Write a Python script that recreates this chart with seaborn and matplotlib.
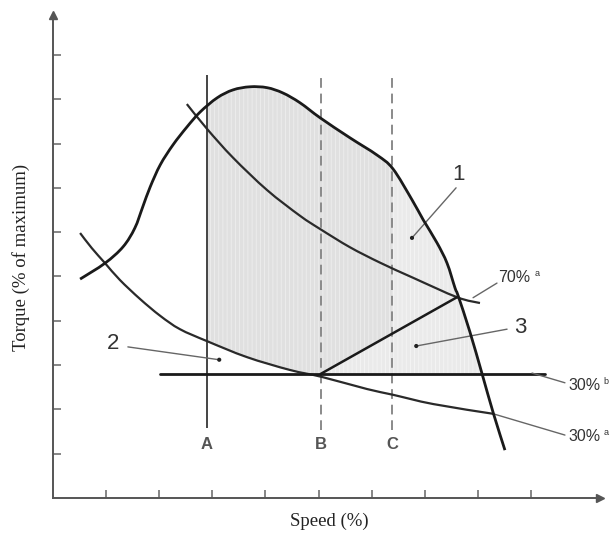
import numpy as np
import matplotlib
matplotlib.use("Agg")
import matplotlib.pyplot as plt
from matplotlib.path import Path
from matplotlib.patches import PathPatch
import seaborn as sns

# full load torque curve (speed %, torque %)
torque_x = [5.1, 9.8, 13.2, 15.4, 16.9, 18.3, 20.2, 22.6, 25.2, 27.7, 30.9, 33.9, 37.1, 40.3,
            43.3, 46.5, 50.3, 55.9, 61.0, 64.0, 67.6, 69.7, 72.3, 74.2, 75.7, 76.3, 78.5,
            80.8, 82.9, 85.1]
torque_y = [49.4, 53.0, 56.7, 60.9, 65.7, 70.2, 75.2, 79.7, 83.7, 87.1, 90.3, 92.1, 92.8, 92.6,
            91.4, 89.2, 85.8, 81.3, 77.4, 74.3, 67.3, 62.8, 57.6, 53.0, 47.4, 45.6, 37.5,
            28.0, 19.2, 10.8]

# 70 % power line
p70_x = [25.2, 29.0, 33.9, 40.3, 46.5, 50.3, 55.9, 61.6, 67.8, 76.1, 80.4]
p70_y = [88.9, 83.3, 76.8, 69.5, 63.7, 60.7, 56.6, 53.1, 49.7, 45.3, 44.0]

# 30 % power line
p30_x = [5.1, 7.3, 9.8, 12.6, 16.4, 20.2, 23.9, 29.0, 36.5, 44.6, 50.7, 59.1, 64.0, 71.6, 82.9]
p30_y = [59.8, 56.4, 53.0, 49.2, 44.9, 41.1, 38.1, 35.4, 31.8, 28.9, 27.3, 24.6, 23.3, 21.2, 19.0]

# 30 % torque line
t30_y = 28.0
t30_x = [20.2, 92.7]

# speeds A, B, C
speed_names = ["A", "B", "C"]
speed_x = [29.0, 50.4, 63.8]


def smooth_path(x, y):
    # Catmull-Rom through the read points, drawn as cubic Bezier segments
    pts = np.column_stack([x, y])
    n = len(pts)
    verts = [pts[0]]
    codes = [Path.MOVETO]
    for i in range(n - 1):
        p0, p1 = pts[max(i - 1, 0)], pts[i]
        p2, p3 = pts[i + 1], pts[min(i + 2, n - 1)]
        verts += [p1 + (p2 - p0) / 6, p2 - (p3 - p1) / 6, p2]
        codes += [Path.CURVE4] * 3
    return Path(verts, codes)


sns.set_theme(style="white")
plt.rcParams["font.family"] = ["Liberation Sans", "DejaVu Sans"]
plt.rcParams["hatch.linewidth"] = 0.6

fig = plt.figure(figsize=(6.15, 5.35), dpi=100)
ax = fig.add_axes([53 / 615, 37 / 535, 547 / 615, 483 / 535])
ax.set_xlim(0, 103.0)
ax.set_ylim(0, 109.0)

torque_path = smooth_path(torque_x, torque_y)
p70_path = smooth_path(p70_x, p70_y)
p30_path = smooth_path(p30_x, p30_y)
tq = torque_path.to_polygons(closed_only=False)[0]
lo = p30_path.to_polygons(closed_only=False)[0]

# shaded operating area
xs = np.linspace(speed_x[0], 80.8, 400)
upper = np.interp(xs, tq[:, 0], tq[:, 1])
lower = np.maximum(np.interp(xs, lo[:, 0], lo[:, 1]), t30_y)
ax.fill_between(xs, lower, upper, where=upper >= lower, facecolor="#e0e0e0",
                edgecolor="#eeeeee", hatch="||||", linewidth=0, zorder=1)
# lighter areas (zones 1 and 3)
xr = xs[xs >= speed_x[2]]
ax.fill_between(xr, np.interp(xr, xs, lower), np.interp(xr, xs, upper), facecolor="#eaeaea",
                edgecolor="#f5f5f5", hatch="||||", linewidth=0, zorder=1)
xm = np.linspace(speed_x[1], speed_x[2], 100)
ax.fill_between(xm, t30_y, np.interp(xm, [speed_x[1], 76.2], [t30_y, 45.4]), facecolor="#eaeaea",
                edgecolor="#f5f5f5", hatch="||||", linewidth=0, zorder=1)

# vertical speed lines
ax.vlines(speed_x[0], 15.8, 95.5, color="#444444", lw=1.4, zorder=2)
ax.vlines(speed_x[1:], 15.3, 95.5, color="#8a8a8a", lw=1.4, linestyles=(0, (5, 3)), zorder=2)
for name, x in zip(speed_names, speed_x):
    ax.text(x, 12.0, name, ha="center", va="center", fontsize=12, fontweight="bold", color="#555555")

ax.add_patch(PathPatch(torque_path, fill=False, edgecolor="#1a1a1a", lw=2.0, zorder=4))
ax.add_patch(PathPatch(p70_path, fill=False, edgecolor="#2a2a2a", lw=1.6, zorder=3))
ax.add_patch(PathPatch(p30_path, fill=False, edgecolor="#2a2a2a", lw=1.6, zorder=3))
sns.lineplot(x=t30_x, y=[t30_y, t30_y], color="#1a1a1a", lw=2.0, ax=ax, zorder=3)
sns.lineplot(x=[speed_x[1], 76.2], y=[t30_y, 45.4], color="#1a1a1a", lw=1.8, ax=ax, zorder=3)

# leaders and labels
lead = dict(color="#666666", lw=1.0, clip_on=False, zorder=3)
ax.plot([79.1, 83.6], [45.2, 48.5], **lead)
ax.plot([90.2, 96.4], [28.2, 26.0], **lead)
ax.plot([82.9, 96.4], [19.0, 14.2], **lead)
ax.plot([75.9, 67.6], [70.0, 58.7], **lead)
ax.plot([14.1, 31.3], [34.1, 31.2], **lead)
ax.plot([85.5, 68.4], [38.1, 34.3], **lead)
sns.scatterplot(x=[67.6, 31.3, 68.4], y=[58.7, 31.2, 34.3], s=9, color="#222222",
                edgecolor="none", ax=ax, zorder=5)

ax.text(83.8, 49.7, "70%", fontsize=11.5, color="#333333", va="center", ha="left")
ax.text(90.6, 50.6, "a", fontsize=6.5, color="#333333", va="center", ha="left")
for y, sup in [(25.5, "b"), (13.8, "a")]:
    ax.text(97.0, y, "30%", fontsize=11.5, color="#333333", va="center", ha="left", clip_on=False)
    ax.text(103.6, y + 0.9, sup, fontsize=6.5, color="#333333", va="center", ha="left")
for txt, x, y in [("1", 76.3, 72.9), ("2", 11.3, 34.8), ("3", 87.9, 38.4)]:
    ax.text(x, y, txt, fontsize=16, color="#333333", ha="center", va="center")

# axes with arrows
for side in ["top", "right"]:
    ax.spines[side].set_visible(False)
for side in ["left", "bottom"]:
    ax.spines[side].set_color("#555555")
    ax.spines[side].set_linewidth(1.4)
ax.plot(1, 0, ">", color="#555555", ms=6, transform=ax.transAxes, clip_on=False)
ax.plot(0, 1, "^", color="#555555", ms=6, transform=ax.transAxes, clip_on=False)
ax.set_xticks(range(10, 100, 10))
ax.set_yticks(range(10, 110, 10))
ax.tick_params(direction="in", length=6, width=1.1, color="#666666",
               labelbottom=False, labelleft=False, bottom=True, left=True)

ax.set_xlabel("Speed (%)", family="Liberation Serif", fontsize=13.5, color="#222222")
ax.set_ylabel("Torque (% of maximum)", family="Liberation Serif", fontsize=13.5, color="#222222")
ax.xaxis.set_label_coords(0.505, -0.031)
ax.yaxis.set_label_coords(-0.042, 0.499)

fig.savefig("out.png", dpi=100)
